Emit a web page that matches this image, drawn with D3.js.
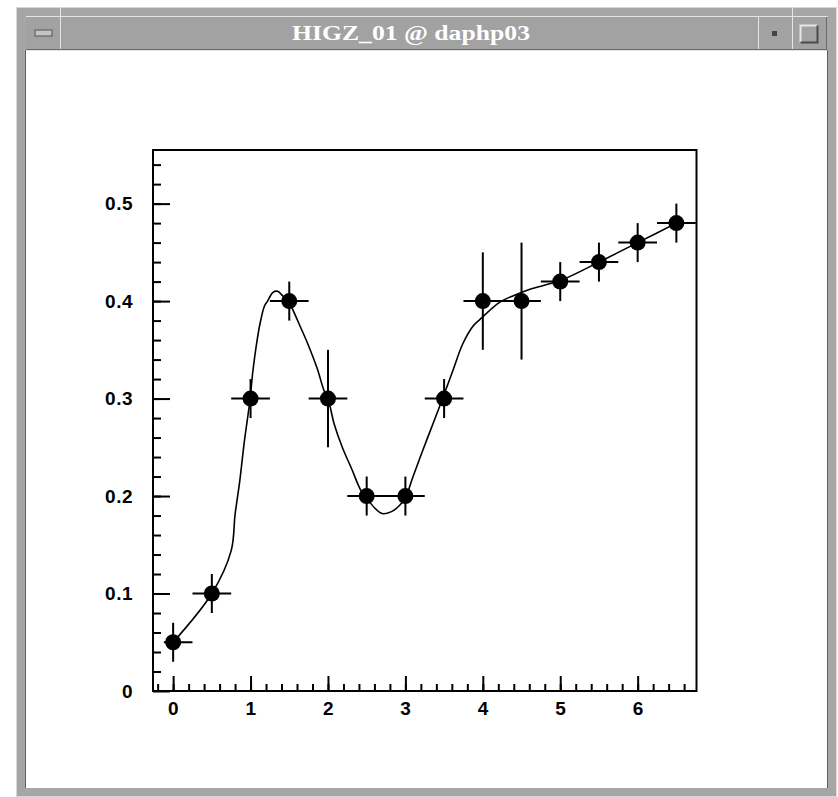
<!DOCTYPE html>
<html>
<head>
<meta charset="utf-8">
<script src="https://cdn.jsdelivr.net/npm/d3@7"></script>
<style>
  body { margin: 0; background: #fff; }
  svg { display: block; }
</style>
</head>
<body>
<div id="chart"></div>
<script>
// measured points with their errors
var xValues = [0, 0.5, 1, 1.5, 2, 2.5, 3, 3.5, 4, 4.5, 5, 5.5, 6, 6.5];
var yValues = [0.05, 0.1, 0.3, 0.4, 0.3, 0.2, 0.2, 0.3, 0.4, 0.4, 0.42, 0.44, 0.46, 0.48];
var xErrLow = [0.12, 0.25, 0.25, 0.25, 0.25, 0.25, 0.25, 0.25, 0.25, 0.25, 0.25, 0.25, 0.25, 0.25];
var xErrHigh = [0.25, 0.25, 0.25, 0.25, 0.25, 0.25, 0.25, 0.25, 0.25, 0.25, 0.25, 0.25, 0.25, 0.25];
var yErrors = [0.02, 0.02, 0.02, 0.02, 0.05, 0.02, 0.02, 0.02, 0.05, 0.06, 0.02, 0.02, 0.02, 0.02];

// smooth curve
var curveX = [0, 0.5, 0.75, 0.8, 0.86, 0.92, 0.99, 1.03, 1.07, 1.12, 1.18, 1.22, 1.29, 1.35, 1.42, 1.5,
  1.63, 1.74, 1.86, 1.95, 2.0, 2.08, 2.19, 2.3, 2.43, 2.5, 2.6, 2.7, 2.82, 2.92, 3.0, 3.09, 3.22, 3.37,
  3.48, 3.61, 3.74, 3.87, 3.96, 4.22, 4.38, 4.6, 5.0, 5.5, 6.0, 6.5];
var curveY = [0.05, 0.1, 0.144, 0.181, 0.215, 0.256, 0.297, 0.328, 0.352, 0.376, 0.395, 0.4, 0.409, 0.41, 0.405, 0.398,
  0.376, 0.356, 0.331, 0.308, 0.3, 0.274, 0.249, 0.229, 0.205, 0.198, 0.188, 0.182, 0.184, 0.19, 0.198, 0.218, 0.246, 0.277,
  0.3, 0.328, 0.356, 0.374, 0.381, 0.399, 0.405, 0.412, 0.421, 0.44, 0.46, 0.48];

var xTicks = [0, 1, 2, 3, 4, 5, 6];
var xTickLabels = ['0', '1', '2', '3', '4', '5', '6'];
var yTicks = [0, 0.1, 0.2, 0.3, 0.4, 0.5];
var yTickLabels = ['0', '0.1', '0.2', '0.3', '0.4', '0.5'];

var width = 838, height = 797;
var box = { left: 153, right: 696.5, top: 150, bottom: 691 };

var svg = d3.select('#chart')
  .append('svg')
  .attr('width', width)
  .attr('height', height);

// window decoration
var frame = svg.append('g').attr('class', 'frame');
frame.append('rect').attr('x', 16).attr('y', 7).attr('width', 821).attr('height', 790).attr('fill', '#a6a6a6');
frame.append('rect').attr('x', 16.5).attr('y', 7.5).attr('width', 820).attr('height', 789)
  .attr('fill', 'none').attr('stroke', '#d8d8d8');
frame.append('rect').attr('x', 26).attr('y', 51).attr('width', 801).attr('height', 737).attr('fill', '#fff');
frame.append('path')
  .attr('d', 'M25.5,788 V50.5 H827.5 V788')
  .attr('fill', 'none').attr('stroke', '#5e5e5e');
// title bar
frame.append('rect').attr('x', 26).attr('y', 17).attr('width', 801).attr('height', 33).attr('fill', '#a2a2a2');
frame.append('path')
  .attr('d', 'M26,16.5 H827.5 M60.5,7 V50 M758.5,17 V50 M792.5,7 V50 M26,50.5 H827')
  .attr('fill', 'none').attr('stroke', '#e6e6e6');
frame.append('path')
  .attr('d', 'M26,49.5 H827 M826.5,17 V50')
  .attr('fill', 'none').attr('stroke', '#6a6a6a');
frame.append('rect').attr('x', 35).attr('y', 30).attr('width', 17).attr('height', 6)
  .attr('fill', '#c4c4c4').attr('stroke', '#555');
frame.append('rect').attr('x', 772).attr('y', 31).attr('width', 5).attr('height', 5).attr('fill', '#444');
frame.append('path')
  .attr('d', 'M800.5,42.5 V25.5 H817.5')
  .attr('fill', 'none').attr('stroke', '#e6e6e6').attr('stroke-width', 2);
frame.append('path')
  .attr('d', 'M817.5,25.5 V42.5 H800.5')
  .attr('fill', 'none').attr('stroke', '#4a4a4a').attr('stroke-width', 2);
frame.append('text')
  .attr('x', 411).attr('y', 40)
  .attr('text-anchor', 'middle')
  .attr('fill', '#fff')
  .attr('font-family', 'Liberation Serif, serif')
  .attr('font-weight', 'bold')
  .attr('font-size', 20)
  .attr('textLength', 238)
  .attr('lengthAdjust', 'spacingAndGlyphs')
  .text('HIGZ_01 @ daphp03');

// scales
var x = d3.scaleLinear().domain([-0.26, 6.76]).range([box.left, box.right]);
var y = d3.scaleLinear().domain([0, 0.555]).range([box.bottom, box.top]);

var font = 'Liberation Sans, Arial, sans-serif';

// minor ticks
svg.append('g')
  .attr('class', 'y-minor')
  .attr('transform', 'translate(' + box.left + ',0)')
  .call(d3.axisLeft(y).tickValues(d3.range(1, 28).map(function (i) { return i * 0.02; }))
    .tickSize(-8).tickFormat(''));
svg.append('g')
  .attr('class', 'x-minor')
  .attr('transform', 'translate(0,' + box.bottom + ')')
  .call(d3.axisBottom(x).tickValues(d3.range(-1, 34).map(function (i) { return i * 0.2; }))
    .tickSize(-7).tickFormat(''));

// major ticks and labels
svg.append('g')
  .attr('class', 'y-axis')
  .attr('transform', 'translate(' + box.left + ',0)')
  .call(d3.axisLeft(y).tickValues(yTicks).tickSize(-17).tickPadding(20)
    .tickFormat(function (d, i) { return yTickLabels[i]; }));
svg.append('g')
  .attr('class', 'x-axis')
  .attr('transform', 'translate(0,' + box.bottom + ')')
  .call(d3.axisBottom(x).tickValues(xTicks).tickSize(-15).tickPadding(11)
    .tickFormat(function (d, i) { return xTickLabels[i]; }));

svg.selectAll('.domain').remove();
svg.selectAll('.tick line').attr('stroke', '#000').attr('stroke-width', 2);
svg.selectAll('.tick text')
  .attr('fill', '#000')
  .attr('font-family', font)
  .attr('font-weight', 'bold')
  .attr('font-size', 19)
  .attr('letter-spacing', 0.5);

// plot box
svg.append('rect')
  .attr('x', box.left).attr('y', box.top)
  .attr('width', box.right - box.left).attr('height', box.bottom - box.top)
  .attr('fill', 'none').attr('stroke', '#000').attr('stroke-width', 2);

// smooth curve
var line = d3.line()
  .x(function (d) { return x(d[0]); })
  .y(function (d) { return y(d[1]); })
  .curve(d3.curveCatmullRom);

svg.append('path')
  .datum(d3.zip(curveX, curveY))
  .attr('fill', 'none')
  .attr('stroke', '#000')
  .attr('stroke-width', 1.6)
  .attr('d', line);

// error bars and markers
var points = d3.range(xValues.length).map(function (i) {
  return { x: xValues[i], y: yValues[i], xl: xErrLow[i], xh: xErrHigh[i], ey: yErrors[i] };
});

var g = svg.append('g').attr('class', 'points');

g.selectAll('line.ex')
  .data(points)
  .enter()
  .append('line')
  .attr('class', 'ex')
  .attr('x1', function (d) { return x(d.x - d.xl); })
  .attr('x2', function (d) { return Math.min(x(d.x + d.xh), box.right); })
  .attr('y1', function (d) { return y(d.y); })
  .attr('y2', function (d) { return y(d.y); })
  .attr('stroke', '#000')
  .attr('stroke-width', 2);

g.selectAll('line.ey')
  .data(points)
  .enter()
  .append('line')
  .attr('class', 'ey')
  .attr('x1', function (d) { return x(d.x); })
  .attr('x2', function (d) { return x(d.x); })
  .attr('y1', function (d) { return y(d.y - d.ey); })
  .attr('y2', function (d) { return y(d.y + d.ey); })
  .attr('stroke', '#000')
  .attr('stroke-width', 2);

g.selectAll('circle')
  .data(points)
  .enter()
  .append('circle')
  .attr('cx', function (d) { return x(d.x); })
  .attr('cy', function (d) { return y(d.y); })
  .attr('r', 8)
  .attr('fill', '#000');
</script>
</body>
</html>
